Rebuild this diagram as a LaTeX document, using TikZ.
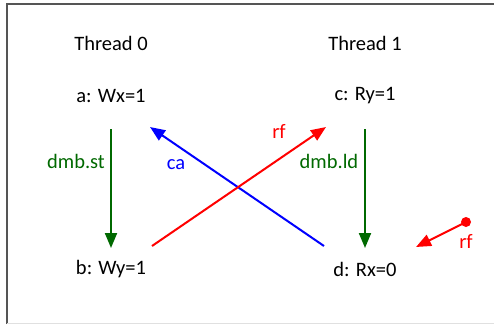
\documentclass[tikz,border=0pt]{standalone}
\usepackage{fontspec}
\setmainfont{Carlito}
\usetikzlibrary{arrows.meta}
\definecolor{dgreen}{RGB}{0,105,0}
\definecolor{framegray}{RGB}{85,85,85}
\begin{document}
\begin{tikzpicture}[x=1pt,y=-1pt,
  lbl/.style={font=\fontsize{20.5}{22}\selectfont, inner sep=0pt},
  elbl/.style={font=\fontsize{20.5}{22}\selectfont, inner sep=0pt},
  rel/.style={line width=2pt, -{Triangle[length=15pt,width=12pt]}},
]
\useasboundingbox (0,0) rectangle (494,324);
\fill[white] (0,0) rectangle (494,324);
\draw[framegray, line width=2pt] (7,324) -- (7,4) -- (494,4);
\draw[black!12, line width=1pt] (7,323) -- (494,323);

\node[lbl] (t0) at (111,43) {Thread 0};
\node[lbl] (t1) at (365,43) {Thread 1};
\node[lbl] (a) at (111,96) {a: Wx=1};
\node[lbl] (c) at (365,96) {c: Ry=1};
\node[lbl] (b) at (111,269) {b: Wy=1};
\node[lbl] (d) at (365,269) {d: Rx=0};

\coordinate (aS) at (111,129);
\coordinate (bN) at (111,248);
\coordinate (cS) at (365,129);
\coordinate (dN) at (365,248);
\coordinate (bE) at (152,246);
\coordinate (cW) at (326,127);
\coordinate (dW) at (324,246);
\coordinate (aE) at (150,127);
\coordinate (init) at (466,222);
\coordinate (dE) at (416,247);

\draw[rel, dgreen] (aS) -- (bN);
\draw[rel, dgreen] (cS) -- (dN);
\draw[rel, blue] (dW) -- (aE);
\draw[rel, red] (bE) -- (cW);
\fill[red] (init) circle (5pt);
\draw[rel, red] (init) -- (dE);

\node[elbl, text=dgreen] (lst) at (76,161) {dmb.st};
\node[elbl, text=dgreen] (lld) at (329,161) {dmb.ld};
\node[elbl, text=blue] (lca) at (176,165) {ca};
\node[elbl, text=red] (lrf) at (279,131) {rf};
\node[elbl, text=red] (lrf2) at (466,241) {rf};
\end{tikzpicture}
\end{document}
